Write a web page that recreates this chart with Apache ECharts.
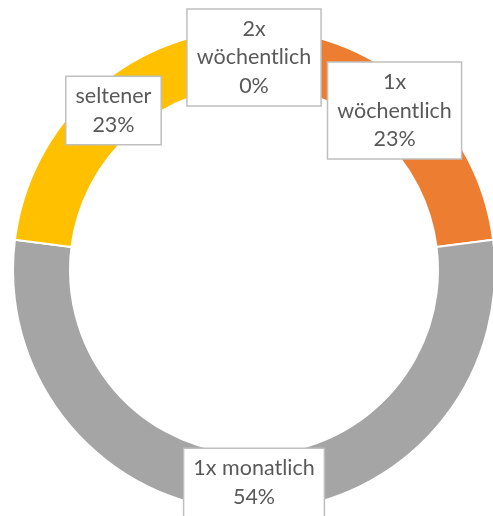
<!DOCTYPE html>
<html>
<head>
<meta charset="utf-8">
<script src="https://cdn.jsdelivr.net/npm/echarts@6/dist/echarts.min.js"></script>
<style>
html,body{margin:0;padding:0;background:#fff;}
#chart{width:493px;height:516px;}
</style>
</head>
<body>
<div id="chart"></div>
<script>
const categories = ['2x wöchentlich', '1x wöchentlich', '1x monatlich', 'seltener'];
const values = [0, 23, 54, 23];
const colors = ['#4472C4', '#ED7D31', '#A5A5A5', '#FFC000'];

const CENTER = [254, 270];
const chart = echarts.init(document.getElementById('chart'), null, {renderer: 'canvas'});
chart.setOption({
  animation: false,
  series: [{
    type: 'pie',
    center: CENTER,
    radius: [184, 241],
    startAngle: 90,
    clockwise: true,
    avoidLabelOverlap: false,
    itemStyle: {borderColor: '#ffffff', borderWidth: 2},
    emphasis: {disabled: true},
    label: {
      show: true,
      position: 'inside',
      fontFamily: 'Lato, "Open Sans", sans-serif',
      fontSize: 21.5,
      lineHeight: 28.5,
      color: '#595959',
      backgroundColor: '#ffffff',
      borderColor: '#BFBFBF',
      borderWidth: 1.5,
      padding: [5, 9, 5, 9],
      align: 'center',
      formatter: function (p) {
        return p.name.replace(' wöchentlich', '\nwöchentlich') + '\n' + Math.round(p.percent) + '%';
      }
    },
    labelLayout: function (params) {
      const r = params.labelRect;
      const cx = r.x + r.width / 2, cy = r.y + r.height / 2;
      const vx = cx - CENTER[0], vy = cy - CENTER[1];
      const len = Math.sqrt(vx * vx + vy * vy) || 1;
      return {dx: -3 * vx / len, dy: -3 * vy / len};
    },
    labelLine: {show: false},
    data: categories.map((c, i) => ({name: c, value: values[i], itemStyle: {color: colors[i]}}))
  }]
});
</script>
</body>
</html>
